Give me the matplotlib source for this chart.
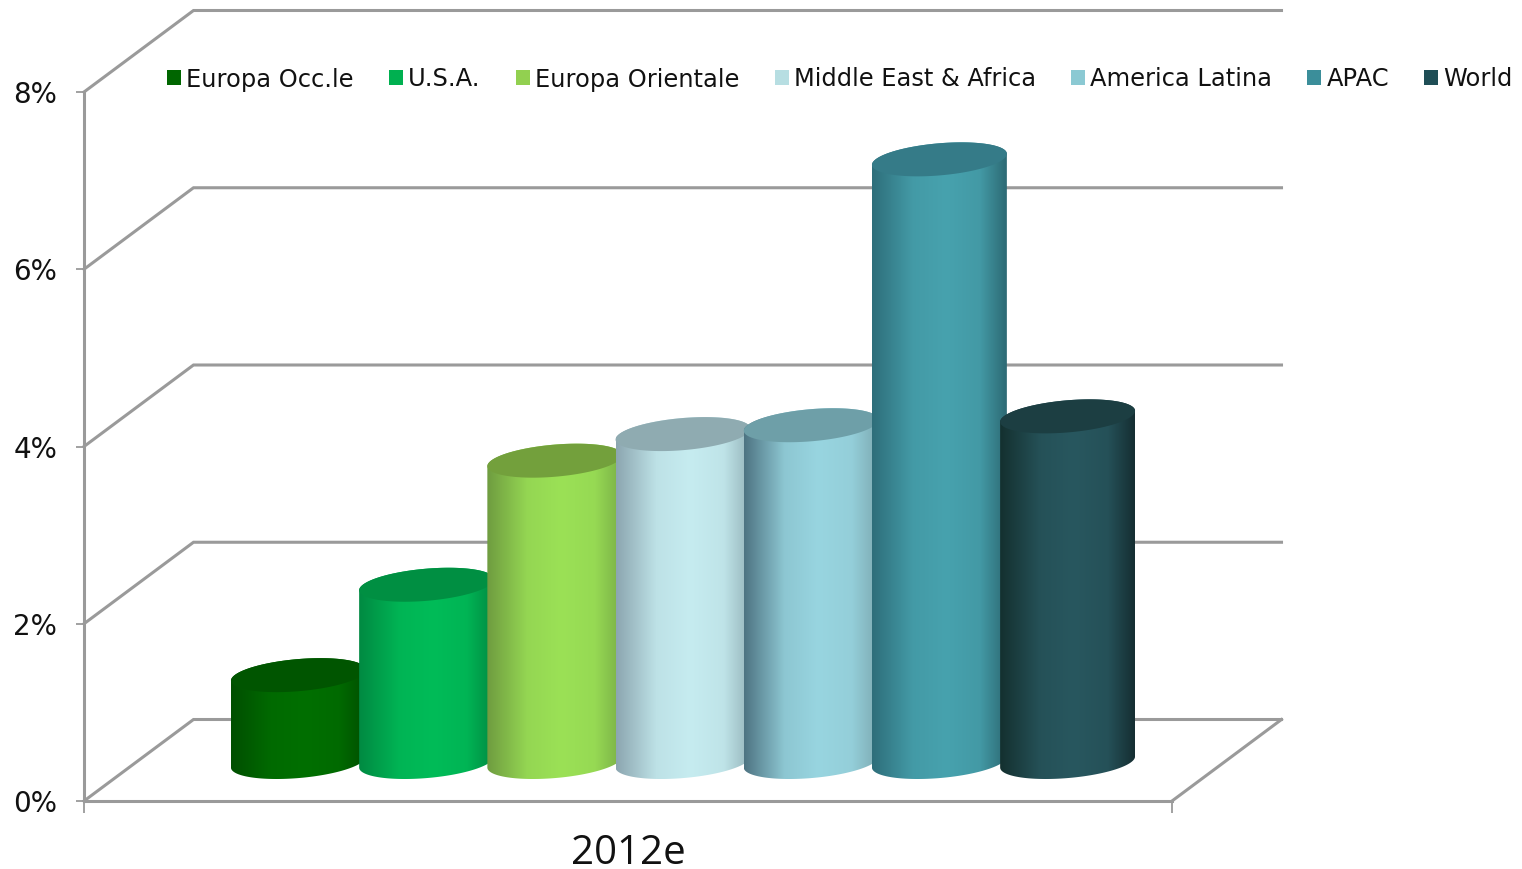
import numpy as np
import matplotlib
matplotlib.use("Agg")
import matplotlib.pyplot as plt
from matplotlib.patches import Patch, PathPatch
from matplotlib.path import Path
from matplotlib.colors import to_rgb, LinearSegmentedColormap

# Chart data
regions = ["Europa Occ.le", "U.S.A.", "Europa Orientale", "Middle East & Africa",
           "America Latina", "APAC", "World"]
growth = [0.98, 2.0, 3.4, 3.7, 3.8, 6.8, 3.9]
y_ticks = [0, 2, 4, 6, 8]
y_tick_labels = ["0%", "2%", "4%", "6%", "8%"]
category = "2012e"

# Colours: legend swatch, lit cylinder side (centre), left edge, right edge, cap
swatch = ["#006600", "#00B050", "#92D050", "#B7DEE2", "#8BC9D3", "#3B8E9A", "#1F4E56"]
side_mid = ["#006F00", "#00BC58", "#9BE156", "#C6ECF0", "#98D5E0", "#47A2AE", "#28575F"]
side_left = ["#004F00", "#008A42", "#6F9C40", "#8CA6B0", "#4E7482", "#2E6E7A", "#14302F"]
side_right = ["#004F00", "#008A42", "#7AAF46", "#95B4BA", "#7DAAB2", "#2D6A74", "#152E32"]
cap = ["#005500", "#008F42", "#73A03C", "#8FABB1", "#6E9FA8", "#357B88", "#1C3E42"]

W, H = 1522, 869
fig = plt.figure(figsize=(W / 100, H / 100), dpi=100, facecolor="white")

# Axes box covers the front wall edge of the chart
left, right, bottom, top = 84, 1172, 801, 92
ax = fig.add_axes([left / W, 1 - bottom / H, (right - left) / W, (bottom - top) / H])
ax.set_xlim(0, 1)
ax.set_ylim(0, 8)
ax.patch.set_alpha(0)

GREY = "#9A9A9A"
LW = 2.2
x_per_px = 1 / (right - left)
y_per_px = 8 / (bottom - top)

# Oblique projection of the floor depth
depth_x = 109.5 * x_per_px
depth_y = 81.5 * y_per_px

for v in y_ticks:
    ax.plot([0, depth_x, 1 + depth_x], [v, v + depth_y, v + depth_y],
            color=GREY, lw=LW, clip_on=False, zorder=1, solid_joinstyle="miter")
ax.plot([1, 1 + depth_x], [0, depth_y], color=GREY, lw=LW, clip_on=False, zorder=1)

for side in ("top", "right"):
    ax.spines[side].set_visible(False)
for side in ("left", "bottom"):
    ax.spines[side].set_color(GREY)
    ax.spines[side].set_linewidth(LW)

ax.set_yticks(y_ticks)
ax.set_yticklabels(y_tick_labels, fontsize=20, color="#111111", family="DejaVu Sans")
ax.set_xticks([0, 1])
ax.set_xticklabels(["", ""])
ax.tick_params(axis="y", length=5.8, width=1.3, color=GREY, pad=13.5)
ax.tick_params(axis="x", length=8.5, width=1.3, color=GREY)
ax.text(0.5, -0.59, category, ha="center", va="center", fontsize=29,
        family="Open Sans", color="#111111")

# Cylinder geometry
spacing = 128.2 * x_per_px
group_centre = (683 - left) * x_per_px
base_y = (bottom - 762) * y_per_px
A = 63.8 * x_per_px    # ellipse term along x
B = 21.9 * x_per_px    # shear term along x
C = 17 * y_per_px      # ellipse term along y
half_w = np.hypot(A, B)
t0 = np.arctan2(B, A)


def ellipse(cx, cy, t):
    return cx + A * np.cos(t) + B * np.sin(t), cy + C * np.sin(t)


def mix(c1, c2, f):
    return tuple((1 - f) * a + f * b for a, b in zip(to_rgb(c1), to_rgb(c2)))


upper = np.linspace(t0, t0 + np.pi, 80)
lower = np.linspace(t0 + np.pi, t0 + 2 * np.pi, 80)

for i, value in enumerate(growth):
    cx = group_centre + (i - (len(growth) - 1) / 2) * spacing
    cy = base_y + value
    z = 3 + i * 2

    # Side of the cylinder: top rim, then bottom rim
    ux, uy = ellipse(cx, cy, upper)
    lx, ly = ellipse(cx, base_y, lower)
    verts = np.column_stack([np.r_[ux, lx], np.r_[uy, ly]])
    outline = Path(np.vstack([verts, verts[0]]), closed=True)
    clip = PathPatch(outline, transform=ax.transData, fc="none", ec="none")
    ax.add_patch(clip)

    cmap = LinearSegmentedColormap.from_list("side", [
        (0.0, side_left[i]),
        (0.3, mix(side_left[i], side_mid[i], 0.85)),
        (0.55, side_mid[i]),
        (0.8, mix(side_right[i], side_mid[i], 0.85)),
        (1.0, side_right[i]),
    ])
    im = ax.imshow(np.linspace(0, 1, 256)[None, :], cmap=cmap, aspect="auto",
                   extent=[cx - half_w, cx + half_w, base_y - C, cy + C],
                   zorder=z, interpolation="bilinear")
    im.set_clip_path(clip)

    # Top face
    tx, ty = ellipse(cx, cy, np.linspace(0, 2 * np.pi, 160))
    ax.fill(tx, ty, color=cap[i], lw=0, zorder=z + 1, clip_on=False)

ax.set_xlim(0, 1)
ax.set_ylim(0, 8)

# Legend row above the bars
handles = [Patch(facecolor=c, edgecolor="none", label=r) for c, r in zip(swatch, regions)]
fig.legend(handles=handles, loc="center left", bbox_to_anchor=(167 / W, 1 - 79.5 / H),
           ncols=len(regions), frameon=False, borderpad=0, borderaxespad=0,
           prop={"family": "DejaVu Sans", "size": 17.4}, labelcolor="#111111",
           handlelength=0.58, handleheight=0.58, handletextpad=0.21, columnspacing=1.46)

fig.savefig("out.png", dpi=100)
